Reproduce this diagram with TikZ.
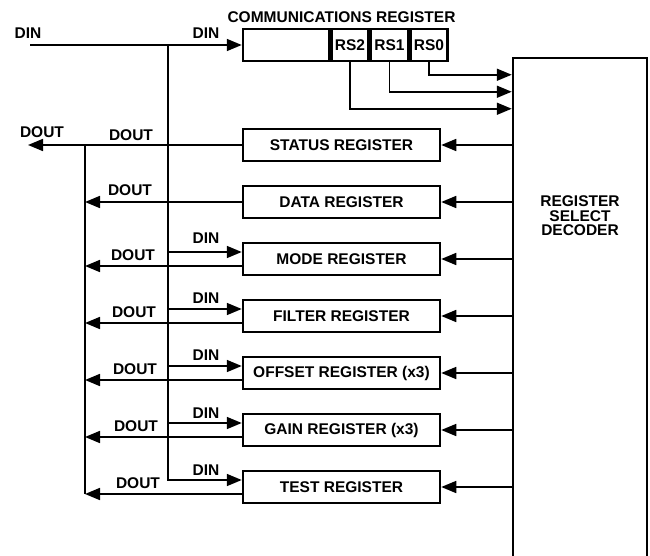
\documentclass[tikz,border=0pt]{standalone}
\usepackage{fontspec}
\setmainfont{Liberation Sans}
\usetikzlibrary{arrows.meta,calc}
\begin{document}
\begin{tikzpicture}[x=1pt,y=-1pt,
  font=\fontsize{15.5}{17}\selectfont\bfseries,
  conn/.style={line width=1.7pt},
  arr/.style={conn,-{Triangle[length=15pt,width=12pt]}},
  regbox/.style={draw,line width=2.5pt,minimum width=197pt,minimum height=32pt,inner sep=0pt},
  cell/.style={draw,line width=2.5pt,minimum height=32pt,inner sep=0pt},
  lbl/.style={inner sep=0pt}]
\useasboundingbox (0,0) rectangle (650,556);
% communications register
\node[cell,minimum width=86pt] (comm) at (286,45) {};
\node[cell,minimum width=37pt,anchor=west] (rs2) at (comm.east) {RS2};
\node[cell,minimum width=37pt,anchor=west] (rs1) at (rs2.east) {RS1};
\node[cell,minimum width=37pt,anchor=west] (rs0) at (rs1.east) {RS0};
\node[lbl] (commlbl) at (341.5,17) {COMMUNICATIONS REGISTER};
% decoder
\node[draw,line width=2.5pt,minimum width=134pt,minimum height=502pt,inner sep=0pt] (dec) at (580,309) {};
\node[lbl,align=center] (dectxt) at (580,216) {REGISTER\\[-2.5pt]SELECT\\[-2.5pt]DECODER};
% registers
\node[regbox] (status) at (341.5,145) {STATUS REGISTER};
\node[regbox] (data)   at (341.5,202) {DATA REGISTER};
\node[regbox] (mode)   at (341.5,259) {MODE REGISTER};
\node[regbox] (filter) at (341.5,316) {FILTER REGISTER};
\node[regbox] (offset) at (341.5,373) {OFFSET REGISTER (x3)};
\node[regbox] (gain)   at (341.5,430) {GAIN REGISTER (x3)};
\node[regbox] (test)   at (341.5,487) {TEST REGISTER};
% coordinates
\coordinate (dinin) at (30,45);
\coordinate (dintop) at (168,45);
\coordinate (douttop) at (85,145);
\coordinate (doutbot) at (85,494);
\coordinate (doutend) at (28,145);
% DIN main line
\draw[arr] (dinin) -- (comm.west);
% RS lines to decoder
\draw[arr] (rs0.south) |- ($(dec.north west)+(0,18)$);
\draw[arr] (rs1.south) |- ($(dec.north west)+(0,35)$);
\draw[arr] (rs2.south) |- ($(dec.north west)+(0,52)$);
% decoder to registers
\foreach \r in {status,data,mode,filter,offset,gain,test}{
  \draw[arr] (dec.west |- \r.east) -- (\r.east);
}
% DIN bus and branches
\draw[arr] (dintop) |- ($(test.west)+(0,-7)$);
\foreach \r in {mode,filter,offset,gain}{
  \draw[arr] (dintop |- {$(\r.west)+(0,-7)$}) -- ($(\r.west)+(0,-7)$);
}
% DOUT bus and branches
\draw[conn] (douttop) -- (doutbot);
\draw[arr] (status.west) -- (doutend);
\draw[arr] (data.west) -- (douttop |- data.west);
\foreach \r in {mode,filter,offset,gain,test}{
  \draw[arr] ($(\r.west)+(0,7)$) -- (douttop |- {$(\r.west)+(0,7)$});
}
% labels
\node[lbl] (l1) at (28,33) {DIN};
\node[lbl] (l2) at (206,33) {DIN};
\node[lbl] (l3) at (42,132) {DOUT};
\node[lbl] (l4) at (131,135) {DOUT};
\node[lbl] (l5) at (130,190) {DOUT};
\node[lbl] (l6) at (206,238) {DIN};
\node[lbl] (l7) at (133,255) {DOUT};
\node[lbl] (l8) at (206,298) {DIN};
\node[lbl] (l9) at (134,312) {DOUT};
\node[lbl] (l10) at (206,355) {DIN};
\node[lbl] (l11) at (135,369) {DOUT};
\node[lbl] (l12) at (206,413) {DIN};
\node[lbl] (l13) at (136,426) {DOUT};
\node[lbl] (l14) at (206,470) {DIN};
\node[lbl] (l15) at (138,483) {DOUT};
\end{tikzpicture}
\end{document}
